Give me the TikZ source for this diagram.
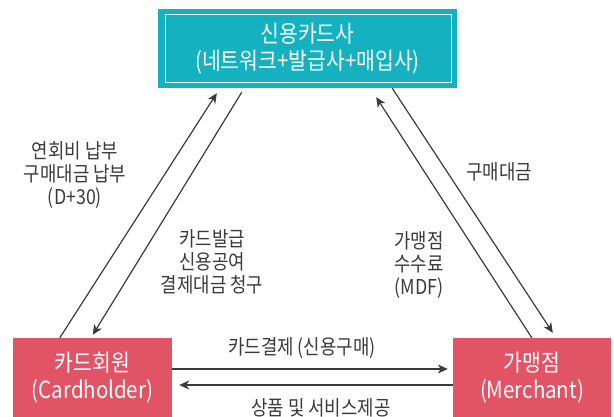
\documentclass[tikz,border=0pt]{standalone}
\usepackage{fontspec}
\setmainfont{Noto Sans CJK KR}[FakeStretch=0.87]
\usetikzlibrary{arrows.meta}
\definecolor{teal1}{HTML}{14B1C1}
\definecolor{red1}{HTML}{E05466}
\definecolor{ink}{HTML}{3A3A3A}
\tikzset{
  x=1pt,y=-1pt,
  bigbox/.style={rectangle, inner sep=0pt, text=white, align=center,
    font=\fontsize{23.5}{27}\selectfont},
  lbl/.style={text=ink, align=center, inner sep=0pt, font=\fontsize{20.5}{23}\selectfont},
  conn/.style={draw=ink, line width=1.2pt},
  arr/.style={conn, -{Stealth[length=10pt,width=9pt,inset=3pt]}},
}
\begin{document}
\begin{tikzpicture}
\useasboundingbox (0,0) rectangle (614,417);
\node[bigbox, fill=teal1, minimum width=299pt, minimum height=79pt] (cc) at (307.5,48.5)
  {신용카드사\\(네트워크+발급사+매입사)};
\draw[white, line width=1.3pt] ([shift={(8pt,-6pt)}]cc.north west) rectangle ([shift={(-6pt,6pt)}]cc.south east);
\node[bigbox, fill=red1, minimum width=159pt, minimum height=79pt] (ch) at (92.5,377.5)
  {카드회원\\(Cardholder)};
\node[bigbox, fill=red1, minimum width=158pt, minimum height=79pt] (ms) at (532,377.5)
  {가맹점\\(Merchant)};
% left diagonals
\draw[arr] ([xshift=47pt]ch.north west) -- ([shift={(59pt,-5pt)}]cc.south west);
\draw[arr] ([shift={(84pt,-4pt)}]cc.south west) -- ([shift={(80pt,3pt)}]ch.north west);
% right diagonals
\draw[arr] ([xshift=79pt]ms.north west) -- ([shift={(-81pt,-9pt)}]cc.south east);
\draw[arr] ([xshift=-65pt]cc.south east) -- ([shift={(100pt,5pt)}]ms.north west);
% horizontals
\draw[arr] ([yshift=8.5pt]ch.east) -- ([shift={(-5pt,8.5pt)}]ms.west);
\draw[arr] ([yshift=-7.5pt]ms.west) -- ([shift={(7pt,-7.5pt)}]ch.east);
% labels
\node[lbl] (l1) at (75,175) {연회비 납부\\구매대금 납부\\(D+30)};
\node[lbl] (l2) at (212,262) {카드발급\\신용공여\\결제대금 청구};
\node[lbl] (l3) at (499,172) {구매대금};
\node[lbl] (l4) at (419,265) {가맹점\\수수료\\(MDF)};
\node[lbl] (l5) at (302,348) {카드결제 (신용구매)};
\node[lbl] (l6) at (321,408) {상품 및 서비스제공};
\end{tikzpicture}
\end{document}
